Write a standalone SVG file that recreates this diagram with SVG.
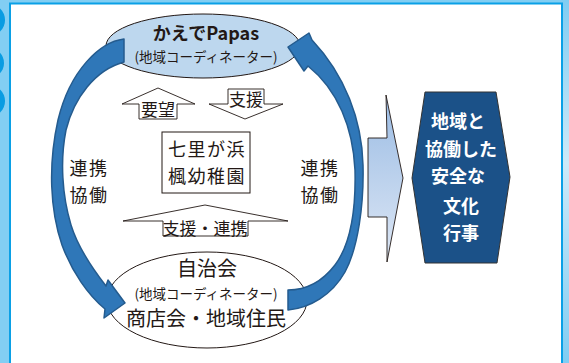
<svg xmlns="http://www.w3.org/2000/svg" width="569" height="363" viewBox="0 0 569 363">
<defs>
<linearGradient id="bgR" x1="0" y1="0" x2="0" y2="1">
<stop offset="0" stop-color="#7fcdf3"/><stop offset="0.45" stop-color="#cdeaf9"/><stop offset="1" stop-color="#7fcdf3"/>
</linearGradient>
<linearGradient id="bigArrow" gradientUnits="userSpaceOnUse" x1="0" y1="95" x2="0" y2="262">
<stop offset="0" stop-color="#9bbce4"/><stop offset="1" stop-color="#dde7f5"/>
</linearGradient>
<style>
.jp{font-family:"Noto Sans CJK JP","Noto Sans",sans-serif;fill:#231815;text-anchor:middle}
.b{font-weight:bold}
.w{fill:#ffffff}
.big{font-size:18px;letter-spacing:1.5px}
.outline{fill:#ffffff;stroke:#231815;stroke-width:0.9}
.curve{fill:#2f77b8;stroke:#245b8e;stroke-width:1.5;stroke-linejoin:round}
</style>
</defs>
<rect x="0" y="0" width="569" height="363" fill="#82cef3"/>
<rect x="562" y="0" width="7" height="363" fill="url(#bgR)"/>
<circle cx="-11" cy="20" r="16" fill="#0a9ce2"/>
<circle cx="-11" cy="63" r="15" fill="#0a9ce2"/>
<circle cx="-11" cy="101" r="16" fill="#0a9ce2"/>
<rect x="10" y="3.5" width="552" height="370" fill="#ffffff" stroke="#0aa0e6" stroke-width="2"/>

<g id="node-kaede">
<ellipse cx="203" cy="46" rx="97" ry="32" fill="#bdd7ee" stroke="#231815" stroke-width="1"/>
<text class="jp b" x="206" y="40" font-size="18">かえでPapas</text>
<text class="jp" x="206" y="62" font-size="13.5">(地域コーディネーター)</text>
</g>

<g id="node-jichikai">
<ellipse cx="207" cy="300" rx="100" ry="48" fill="#ffffff" stroke="#231815" stroke-width="1"/>
<text class="jp" x="207" y="276" font-size="20">自治会</text>
<text class="jp" x="206" y="299" font-size="13.5">(地域コーディネーター)</text>
<text class="jp" x="206" y="326" font-size="20">商店会・地域住民</text>
</g>

<g id="node-youchien">
<rect x="162" y="132" width="88" height="61" fill="#ffffff" stroke="#231815" stroke-width="1"/>
<text class="jp big" x="207" y="156">七里が浜</text>
<text class="jp big" x="207" y="182.5">楓幼稚園</text>
</g>

<g id="node-gyouji">
<polygon points="425,92 496,92 510,177 497,263 425,263 412,178" fill="#1b5188" stroke="#333333" stroke-width="1"/>
<text class="jp b w" x="458" y="128" font-size="18">地域と</text>
<text class="jp b w" x="461" y="156" font-size="18">協働した</text>
<text class="jp b w" x="458" y="183" font-size="18">安全な</text>
<text class="jp b w" x="461" y="213" font-size="18">文化</text>
<text class="jp b w" x="461" y="239.5" font-size="18">行事</text>
</g>

<g id="connectors">
<polygon points="368,138 387,138 386,95 403,178 387,262 387,217 368,217" fill="url(#bigArrow)" stroke="#231815" stroke-width="0.9"/>
<g id="label-youbou">
<polygon class="outline" points="158,88 195,104 177,104 177,119 139,119 139,104 122,104"/>
<text class="jp" x="158" y="116" font-size="17">要望</text>
</g>
<g id="label-shien">
<polygon class="outline" points="228,89 264,89 264,104 283,104 245,119 209,104 228,104"/>
<text class="jp" x="246" y="106" font-size="17">支援</text>
</g>
<g id="label-shien-renkei">
<polygon class="outline" points="205,205 288,221 248,221 248,236 163,236 163,221 123,221"/>
<text class="jp" x="205" y="235" font-size="17">支援・連携</text>
</g>
<path class="curve" d="M124,39 C100,42 70,70 58,120 C48,165 50,210 62,245 C72,272 88,295 105,309 L104,318 L125,303 L108,280 L106,286 C92,268 78,248 71,225 C62,195 60,160 66,130 C74,98 95,70 124,62 Z"/>
<path class="curve" d="M288,310 C310,308 332,295 345,272 C358,248 364,205 363,165 C362,120 345,75 312,40 L309,33 L288,47 L304,71 L308,66 C338,90 353,128 355,170 C356,210 350,245 335,265 C322,282 305,290 288,290 Z"/>
</g>

<g id="labels-renkei">
<text class="jp big" x="89" y="175">連携</text>
<text class="jp big" x="89" y="201.5">協働</text>
<text class="jp big" x="320" y="175">連携</text>
<text class="jp big" x="320" y="201.5">協働</text>
</g>
</svg>
